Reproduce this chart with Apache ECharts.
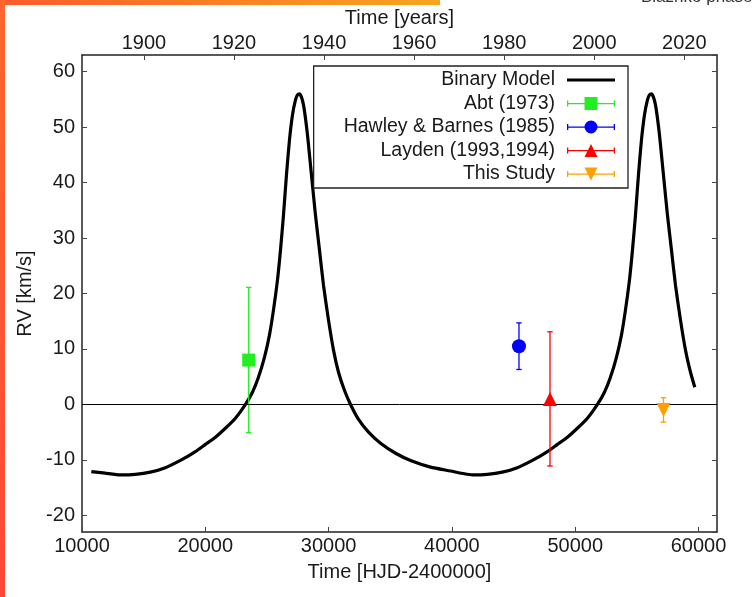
<!DOCTYPE html>
<html><head><meta charset="utf-8">
<script src="https://cdn.jsdelivr.net/npm/echarts@6/dist/echarts.min.js"></script>
<style>html,body{margin:0;padding:0;background:#fff}#c{width:753px;height:597px}</style>
</head><body><div id="c"></div>
<script>
// ---- data ----
const modelHJD = [10755,11891,13109,14326,15544,16761,17979,19197,20008,20820,21632,22443,23255,23823,24310,24797,25203,25528,25852,26096,26339,26583,26827,27070,27314,27476,27638,27800,27963,28125,28288,28450,28694,28937,29262,29586,29992,30398,30804,31291,31778,32427,33239,34213,35431,36649,38272,39895,41000,41656,42873,44091,45308,46526,47744,48555,49367,50179,50990,51802,52370,52857,53344,53750,54075,54399,54643,54886,55130,55374,55617,55861,56023,56185,56347,56510,56672,56835,56997,57241,57484,57809,58133,58539,58945,59351,59700];
const modelRV  = [-12.1,-12.4,-12.7,-12.6,-12.2,-11.4,-10.1,-8.5,-7.2,-5.9,-4.3,-2.5,0,2.2,4.9,8.5,12.5,17.0,22.4,27.8,34.1,41.4,47.7,52.2,54.9,55.8,56.0,55.4,54.0,51.6,48.6,45.0,39.5,34.1,27.8,21.5,15.2,9.8,5.8,2.5,0,-2.7,-5.0,-7.0,-8.8,-10.1,-11.3,-12.0,-12.5,-12.7,-12.6,-12.2,-11.4,-10.1,-8.5,-7.2,-5.9,-4.3,-2.5,0,2.2,4.9,8.5,12.5,17.0,22.4,27.8,34.1,41.4,47.7,52.2,54.9,55.8,56.0,55.4,54.0,51.6,48.6,45.0,39.5,34.1,27.8,21.5,15.2,9.8,5.8,3.1];
const modelName = 'Binary Model';
const obsNames = ['Abt (1973)', 'Hawley & Barnes (1985)', 'Layden (1993,1994)', 'This Study'];
const obsHJD   = [23520, 45440, 47955, 57160];
const obsRV    = [8.0, 10.5, 1.0, -1.0];
const obsErr   = [13.1, 4.2, 12.1, 2.2];
const xRange = [10000, 61500];
const yRange = [-23, 63];
const xTickStep = 10000;
// HJD-2400000 of 1900.0 and days per year (for the top year axis)
const hjd1900 = 15020, daysPerYear = 365.25;

// ---- styles ----
const obsColors  = ['#22ee22', '#0000ff', '#ff0000', '#ffa000'];
const obsSymbols = ['rect', 'circle', 'triangle', 'triangle'];
const obsRotate  = [0, 0, 0, 180];
const obsSize    = [13, 14, 14, 14];
const obsIcons = [
  'path://M0,6h48v1.3h-48zM0,3.5h1.3v6h-1.3zM46.7,3.5h1.3v6h-1.3zM17.5,0h13v13h-13z',
  'path://M0,6h48v1.3h-48zM0,3.5h1.3v6h-1.3zM46.7,3.5h1.3v6h-1.3zM17.5,6.5a6.5,6.5 0 1 1 13,0a6.5,6.5 0 1 1 -13,0z',
  'path://M0,6h48v1.3h-48zM0,3.5h1.3v6h-1.3zM46.7,3.5h1.3v6h-1.3zM24,0L30.5,13H17.5z',
  'path://M0,6h48v1.3h-48zM0,3.5h1.3v6h-1.3zM46.7,3.5h1.3v6h-1.3zM17.5,0H30.5L24,13z'
];
const FF = "'Liberation Sans', Arial, Helvetica, sans-serif";
const TXT = '#1a1a1a';
const FS = 20;

const yearMin = 1900 + (xRange[0] - hjd1900) / daysPerYear;
const yearMax = 1900 + (xRange[1] - hjd1900) / daysPerYear;

const chart = echarts.init(document.getElementById('c'), null, {renderer: 'canvas'});

const axisLineStyle = {show: true, onZero: false, lineStyle: {color: '#222', width: 1.5}};
const tickStyle = {show: true, inside: true, length: 5, lineStyle: {color: '#444', width: 1}};
const plain = v => String(Math.round(v));
const lblBase = {fontSize: FS, color: TXT, fontFamily: FF, formatter: plain};

const series = [{
  name: modelName, type: 'line', xAxisIndex: 0, yAxisIndex: 0,
  data: modelHJD.map((x, i) => [x, modelRV[i]]),
  showSymbol: false, symbol: 'none', smooth: 0.2,
  color: '#000',
  lineStyle: {color: '#000', width: 3.2},
  z: 3,
  markLine: {
    silent: true, symbol: ['none', 'none'], label: {show: false},
    lineStyle: {color: '#000', width: 1, type: 'solid'},
    data: [{yAxis: 0}], animation: false
  }
}, {
  name: 'errorbars', type: 'custom', xAxisIndex: 0, yAxisIndex: 0, z: 4,
  data: obsHJD.map((x, i) => [x, obsRV[i] - obsErr[i], obsRV[i] + obsErr[i]]),
  renderItem: function (params, api) {
    const x = api.value(0), lo = api.value(1), hi = api.value(2);
    const t = api.coord([x, hi]), b = api.coord([x, lo]);
    const c = obsColors[params.dataIndex];
    const st = {stroke: c, lineWidth: 1.3};
    return {type: 'group', children: [
      {type: 'line', shape: {x1: t[0], y1: t[1], x2: b[0], y2: b[1]}, style: st},
      {type: 'line', shape: {x1: t[0] - 2.7, y1: t[1], x2: t[0] + 2.7, y2: t[1]}, style: st},
      {type: 'line', shape: {x1: b[0] - 2.7, y1: b[1], x2: b[0] + 2.7, y2: b[1]}, style: st}
    ]};
  }
}];
obsNames.forEach((n, i) => {
  series.push({
    name: n, type: 'scatter', xAxisIndex: 0, yAxisIndex: 0, z: 5,
    data: [[obsHJD[i], obsRV[i]]],
    symbol: obsSymbols[i], symbolSize: obsSize[i], symbolRotate: obsRotate[i],
    itemStyle: {color: obsColors[i], opacity: 1}
  });
});

chart.setOption({
  animation: false,
  backgroundColor: '#fff',
  textStyle: {fontFamily: FF},
  grid: {left: 82, right: 36, top: 55, bottom: 65, containLabel: false},
  xAxis: [{
    type: 'value', position: 'bottom', min: xRange[0], max: xRange[1], interval: xTickStep,
    name: 'Time [HJD-2400000]', nameLocation: 'middle', nameGap: 30,
    nameTextStyle: {fontSize: FS, color: TXT, fontFamily: FF},
    axisLine: axisLineStyle, axisTick: tickStyle,
    axisLabel: Object.assign({margin: 4, showMinLabel: true, showMaxLabel: false}, lblBase),
    splitLine: {show: false}
  }, {
    type: 'value', position: 'top', min: yearMin, max: yearMax, splitNumber: 7,
    name: 'Time [years]', nameLocation: 'middle', nameGap: 26,
    nameTextStyle: {fontSize: FS, color: TXT, fontFamily: FF},
    axisLine: axisLineStyle, axisTick: tickStyle,
    axisLabel: Object.assign({margin: 2, showMinLabel: false, showMaxLabel: false}, lblBase),
    splitLine: {show: false}
  }],
  yAxis: [{
    type: 'value', position: 'left', min: yRange[0], max: yRange[1], splitNumber: 9,
    name: 'RV [km/s]', nameLocation: 'middle', nameGap: 44, nameRotate: 90,
    nameTextStyle: {fontSize: FS, color: TXT, fontFamily: FF},
    axisLine: axisLineStyle, axisTick: tickStyle,
    axisLabel: Object.assign({margin: 7, showMinLabel: false, showMaxLabel: false}, lblBase),
    splitLine: {show: false}
  }, {
    type: 'value', position: 'right', min: yRange[0], max: yRange[1], splitNumber: 9,
    axisLine: axisLineStyle, axisTick: tickStyle,
    axisLabel: {show: false}, splitLine: {show: false}
  }],
  legend: {
    orient: 'vertical', align: 'right', right: 125, top: 66,
    selectedMode: false,
    data: [{name: modelName, icon: 'path://M0,5h48v3h-48z'}].concat(obsNames.map((n, i) => ({name: n, icon: obsIcons[i]}))),
    itemWidth: 48, itemHeight: 13, itemGap: 3.5,
    symbolKeepAspect: true,
    padding: [4, 13, 4, 30],
    borderColor: '#222', borderWidth: 1.3, backgroundColor: '#fff',
    textStyle: {fontSize: 19.5, lineHeight: 19, color: TXT, fontFamily: FF, padding: [0, 7, 0, 0]}
  },
  graphic: [
    {type: 'rect', left: 0, top: 0, shape: {width: 440, height: 5}, silent: true,
     style: {fill: new echarts.graphic.LinearGradient(0, 0, 1, 0, [{offset: 0, color: '#ff5a2c'}, {offset: 1, color: '#f6a61e'}])}},
    {type: 'rect', left: 0, top: 0, shape: {width: 5, height: 597}, silent: true,
     style: {fill: new echarts.graphic.LinearGradient(0, 0, 0, 1, [{offset: 0, color: '#ff6630'}, {offset: 1, color: '#ff4838'}])}},
    {type: 'text', left: 641, top: -11, silent: true,
     style: {text: 'Blazhko phase', fill: '#333', font: "17px " + FF}}
  ],
  series: series
});
</script>
</body></html>
